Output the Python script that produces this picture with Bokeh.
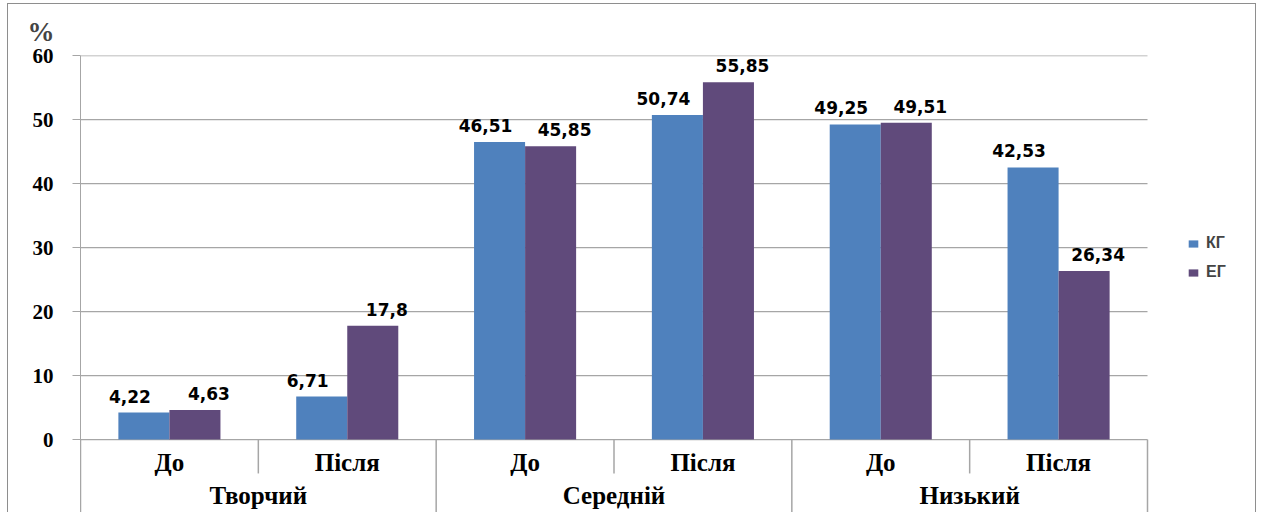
from bokeh.plotting import figure
from bokeh.models import ColumnDataSource, Legend, LegendItem, FixedTicker, Range1d
from bokeh.core.properties import value
from bokeh.embed import file_html
from bokeh.resources import INLINE

groups = ["Творчий", "Середній", "Низький"]
subs = ["До", "Після"]
series_names = ["КГ", "ЕГ"]
kg = [4.22, 6.71, 46.51, 50.74, 49.25, 42.53]
eg = [4.63, 17.8, 45.85, 55.85, 49.51, 26.34]
y_ticks = [0, 10, 20, 30, 40, 50, 60]

BLUE = "#4F81BD"
PURPLE = "#604A7B"
GRID = "#A6A6A6"

n = len(groups) * len(subs)
centers = [i + 0.5 for i in range(n)]
sub_names = [s for g in groups for s in subs]
fmt = lambda v: str(v).replace(".", ",")
half = 0.1435
w = 0.287
src = ColumnDataSource(data=dict(
    xk=[c - half for c in centers], xe=[c + half for c in centers],
    kg=kg, eg=eg,
    kg_lbl=[fmt(v) for v in kg], eg_lbl=[fmt(v) for v in eg],
))

p = figure(
    x_range=Range1d(0, n * 1177 / 1067),
    y_range=Range1d(-11.56, 60.02),
    width=1249, height=509,
    output_backend="svg", toolbar_location=None,
    min_border_left=72, min_border_right=0, min_border_top=51, min_border_bottom=0,
    title="%",
)
p.styles = {"margin-left": "7px", "margin-top": "3px",
            "border-left": "1px solid #8E8E8E", "border-top": "1px solid #8E8E8E",
            "border-right": "1px solid #8E8E8E"}
p.title.text_font = "Liberation Serif"
p.title.text_font_style = "bold"
p.title.text_font_size = "27px"
p.title.align = "left"
p.title.offset = -53
p.title.standoff = 17
p.outline_line_color = None
p.background_fill_color = "white"
p.border_fill_color = "white"
p.xaxis.visible = False
p.xgrid.visible = False
p.ygrid.visible = False

yax = p.yaxis[0]
yax.ticker = FixedTicker(ticks=y_ticks)
yax.axis_line_color = GRID
yax.major_tick_line_color = GRID
yax.major_tick_out = 8
yax.major_tick_in = 0
yax.minor_tick_line_color = None
yax.major_label_standoff = 19
yax.major_label_text_font = "Liberation Serif"
yax.major_label_text_font_style = "bold"
yax.major_label_text_font_size = "21px"
yax.major_label_text_color = "black"

# horizontal gridlines across the category area only
p.segment(x0=[0] * len(y_ticks), y0=y_ticks, x1=[n] * len(y_ticks), y1=y_ticks,
          line_color=GRID, line_width=1.2)

r1 = p.vbar(x="xk", top="kg", width=w, source=src, fill_color=BLUE, line_color=None)
r2 = p.vbar(x="xe", top="eg", width=w, source=src, fill_color=PURPLE, line_color=None)

lbl_kw = dict(text_font=value("DejaVu Sans"), text_font_style="bold", text_font_size="17px",
              text_align="center", text_baseline="bottom", text_color="black", source=src)
p.text(x="xk", y="kg", text="kg_lbl", x_offset=-14, y_offset=-10, **lbl_kw)
p.text(x="xe", y="eg", text="eg_lbl", x_offset=14, y_offset=-10, **lbl_kw)

# category axis labels below the baseline
y_sub = -3.6
y_grp = -8.8
p.text(x=centers, y=[y_sub] * n, text=sub_names,
       text_font=value("Liberation Serif"), text_font_style="bold", text_font_size="25px",
       text_align="center", text_baseline="middle", text_color="black")
grp_centers = [len(subs) * i + len(subs) / 2 for i in range(len(groups))]
p.text(x=grp_centers, y=[y_grp] * len(groups), text=groups,
       text_font=value("Liberation Serif"), text_font_style="bold", text_font_size="25px",
       text_align="center", text_baseline="middle", text_color="black")

# separators
sub_bounds = [len(subs) * i + 1 for i in range(len(groups))]
p.segment(x0=sub_bounds, y0=[0] * 3, x1=sub_bounds, y1=[-5.3] * 3, line_color=GRID, line_width=1.5)
grp_bounds = [len(subs) * i for i in range(len(groups) + 1)]
p.segment(x0=grp_bounds, y0=[0] * 4, x1=grp_bounds, y1=[-11.56] * 4, line_color=GRID, line_width=1.5)

legend = Legend(items=[LegendItem(label=series_names[0], renderers=[r1]),
                       LegendItem(label=series_names[1], renderers=[r2])],
                location=(1107, 231), border_line_color=None, background_fill_alpha=0,
                glyph_width=12, glyph_height=9, label_height=20, spacing=9,
                label_text_font="Liberation Sans", label_text_font_style="bold",
                label_text_font_size="16px", label_standoff=7, padding=0, margin=0)
p.add_layout(legend)

open("out.html", "w").write(file_html(p, INLINE))
